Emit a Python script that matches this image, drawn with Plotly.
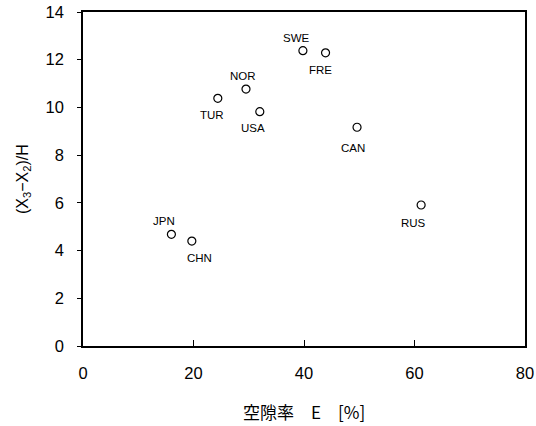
import plotly.graph_objects as go

countries = ["JPN", "CHN", "TUR", "NOR", "USA", "SWE", "FRE", "CAN", "RUS"]
void_ratio = [16.0, 19.7, 24.4, 29.5, 32.0, 39.8, 43.9, 49.6, 61.2]
ratio = [4.68, 4.40, 10.38, 10.77, 9.82, 12.38, 12.29, 9.17, 5.91]

x_ticks = [0, 20, 40, 60, 80]
y_ticks = [0, 2, 4, 6, 8, 10, 12, 14]

x_title = "空隙率　E　[%]"
y_title = "(X<sub>3</sub>−X<sub>2</sub>)/H"

# label offsets in pixels (style only)
label_dx = [-7, 8, -6, -3, -7, -6, -5, -4, -8]
label_dy = [13, -17, -17, 13, -16, 13, -17, -21, -18]

fig = go.Figure()
fig.add_trace(go.Scatter(
    x=void_ratio, y=ratio, mode="markers",
    marker=dict(symbol="circle-open", size=8, color="black", line=dict(width=1.2)),
    showlegend=False, hoverinfo="skip",
))
for c, xv, yv, dx, dy in zip(countries, void_ratio, ratio, label_dx, label_dy):
    fig.add_annotation(x=xv, y=yv, text=c, showarrow=False,
                       xshift=dx, yshift=dy,
                       font=dict(family="Liberation Sans, Arial", size=11.5, color="black"))

fig.add_annotation(xref="paper", yref="paper", x=0.5, y=0, yshift=-65,
                   xanchor="center", yanchor="middle", showarrow=False, text=x_title,
                   font=dict(family="Noto Sans CJK JP", size=17, color="black"))
fig.add_annotation(xref="paper", yref="paper", x=0, y=0.5, xshift=-60,
                   xanchor="center", yanchor="middle", showarrow=False, text=y_title,
                   textangle=-90,
                   font=dict(family="Liberation Sans, Arial", size=16, color="black"))

fig.update_layout(
    width=536, height=426,
    margin=dict(l=83, r=11, t=12, b=80),
    paper_bgcolor="white", plot_bgcolor="white",
    font=dict(family="Liberation Sans, Arial", color="black"),
)
fig.update_xaxes(
    range=[0, 80], tickvals=x_ticks, ticks="inside", ticklen=6, tickcolor="black",
    showline=True, linecolor="black", linewidth=1.5, mirror=True, showgrid=False,
    zeroline=False, tickfont=dict(size=16.5), ticklabelstandoff=11, automargin=False,
)
fig.update_yaxes(
    range=[0, 14], tickvals=y_ticks, ticks="outside", ticklen=4, tickcolor="black",
    showline=True, linecolor="black", linewidth=1.5, mirror=True, showgrid=False,
    zeroline=False, tickfont=dict(size=16.5), ticklabelstandoff=10, automargin=False,
)
fig.write_html(
    "out.html",
    config={"displayModeBar": False},
    post_script="document.body.style.margin='0';document.body.style.overflow='hidden';",
)
